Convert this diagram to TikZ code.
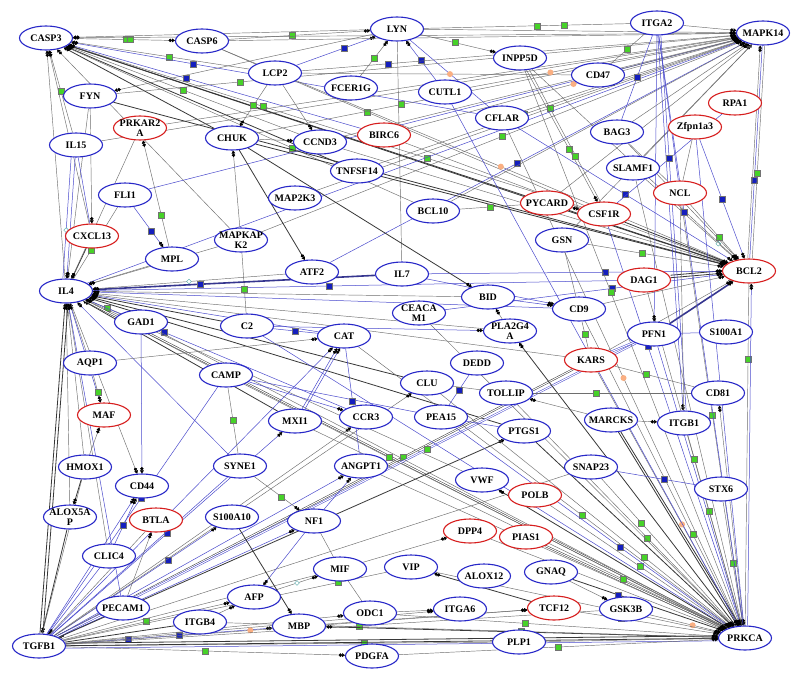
\documentclass[tikz,border=0pt]{standalone}
\usepackage{fontspec}
\setmainfont{Liberation Serif}
\usetikzlibrary{shapes.geometric,arrows.meta}
\pgfdeclarelayer{bg}
\pgfdeclarelayer{paper}
\pgfsetlayers{paper,bg,main}
\definecolor{nblue}{RGB}{40,40,200}
\definecolor{nred}{RGB}{215,30,30}
\definecolor{egray}{RGB}{110,110,110}
\definecolor{edark}{RGB}{55,55,55}
\definecolor{eblue}{RGB}{75,75,205}
\definecolor{sqgreen}{RGB}{70,210,40}
\definecolor{sqblue}{RGB}{20,30,190}
\definecolor{corange}{RGB}{250,175,130}
\newcommand{\nlab}[1]{\makebox[0pt]{#1}}
\newcommand{\nltwo}[2]{\makebox[0pt]{\shortstack{#1\\[0.5pt]#2}}}
\begin{document}
\begin{tikzpicture}[x=1pt,y=-1pt,
  nd/.style={ellipse,draw=nblue,line width=1.1pt,fill=white,minimum width=53pt,minimum height=24pt,inner sep=0pt,font=\bfseries\fontsize{10}{10}\selectfont},
  rd/.style={nd,draw=nred},
  eg/.style={draw=egray,line width=.45pt},
  ed/.style={draw=edark,line width=.8pt},
  eb/.style={draw=eblue,line width=.5pt},
  eB/.style={draw=eblue!70!black,line width=1.6pt},
  edb/.style={draw=edark,double=white,double distance=1pt,line width=.5pt},
  atip/.style={-{Circle[length=3.4pt,width=3.4pt,color=black]Triangle[length=3pt,width=3.8pt,color=black]}},
  gsq/.style={rectangle,draw=black!55,fill=sqgreen,minimum size=6pt,inner sep=0pt,line width=.35pt},
  bsq/.style={rectangle,draw=black!55,fill=sqblue,minimum size=6pt,inner sep=0pt,line width=.35pt},
  orc/.style={circle,fill=corange,minimum size=6pt,inner sep=0pt},
  dmd/.style={diamond,draw=teal!70,fill=white,minimum size=5pt,inner sep=0pt,line width=.4pt}]
\useasboundingbox (0,0) rectangle (800,678);
\begin{pgfonlayer}{paper}
\fill[white] (0,0) rectangle (800,678);
\end{pgfonlayer}
% ---------------- nodes ----------------
\node[nd] (CASP3) at (46,38) {\nlab{CASP3}};
\node[nd] (CASP6) at (202,41) {\nlab{CASP6}};
\node[nd] (LYN) at (397,29) {\nlab{LYN}};
\node[nd] (ITGA2) at (657,23) {\nlab{ITGA2}};
\node[nd] (MAPK14) at (763,33) {\nlab{MAPK14}};
\node[nd] (LCP2) at (275,73) {\nlab{LCP2}};
\node[nd] (FCER1G) at (351,88) {\nlab{FCER1G}};
\node[nd] (INPP5D) at (520,58) {\nlab{INPP5D}};
\node[nd] (CD47) at (598,75) {\nlab{CD47}};
\node[nd] (CUTL1) at (445,92) {\nlab{CUTL1}};
\node[nd] (CFLAR) at (502,118) {\nlab{CFLAR}};
\node[rd] (RPA1) at (735,103) {\nlab{RPA1}};
\node[rd] (Zfpn1a3) at (695,127) {\nlab{Zfpn1a3}};
\node[nd] (FYN) at (90,96) {\nlab{FYN}};
\node[rd] (PRKAR2A) at (140,128) {\nltwo{PRKAR2}{A}};
\node[nd] (CHUK) at (232,138) {\nlab{CHUK}};
\node[nd] (CCND3) at (320,142) {\nlab{CCND3}};
\node[rd] (BIRC6) at (384,135) {\nlab{BIRC6}};
\node[nd] (BAG3) at (617,132) {\nlab{BAG3}};
\node[nd] (SLAMF1) at (633,168) {\nlab{SLAMF1}};
\node[nd] (IL15) at (76,145) {\nlab{IL15}};
\node[nd] (TNFSF14) at (357,171) {\nlab{TNFSF14}};
\node[nd] (FLI1) at (125,195) {\nlab{FLI1}};
\node[nd] (MAP2K3) at (295,198) {\nlab{MAP2K3}};
\node[rd] (PYCARD) at (547,203) {\nlab{PYCARD}};
\node[rd] (CSF1R) at (604,214) {\nlab{CSF1R}};
\node[rd] (NCL) at (680,193) {\nlab{NCL}};
\node[nd] (BCL10) at (433,211) {\nlab{BCL10}};
\node[rd] (CXCL13) at (92,236) {\nlab{CXCL13}};
\node[nd] (MPL) at (172,259) {\nlab{MPL}};
\node[nd] (MAPKAPK2) at (241,240) {\nltwo{MAPKAP}{K2}};
\node[nd] (GSN) at (562,240) {\nlab{GSN}};
\node[nd] (ATF2) at (312,272) {\nlab{ATF2}};
\node[nd] (IL7) at (402,274) {\nlab{IL7}};
\node[rd] (DAG1) at (644,280) {\nlab{DAG1}};
\node[rd] (BCL2) at (749,271) {\nlab{BCL2}};
\node[nd] (IL4) at (66,291) {\nlab{IL4}};
\node[nd] (BID) at (488,297) {\nlab{BID}};
\node[nd] (CEACAM1) at (419,313) {\nltwo{CEACA}{M1}};
\node[nd] (CD9) at (579,309) {\nlab{CD9}};
\node[nd] (PLA2G4A) at (510,331) {\nltwo{PLA2G4}{A}};
\node[nd] (PFN1) at (654,334) {\nlab{PFN1}};
\node[nd] (S100A1) at (726,332) {\nlab{S100A1}};
\node[nd] (GAD1) at (141,322) {\nlab{GAD1}};
\node[nd] (C2) at (247,326) {\nlab{C2}};
\node[nd] (CAT) at (344,336) {\nlab{CAT}};
\node[nd] (AQP1) at (90,363) {\nlab{AQP1}};
\node[nd] (CAMP) at (226,375) {\nlab{CAMP}};
\node[nd] (DEDD) at (477,363) {\nlab{DEDD}};
\node[rd] (KARS) at (591,360) {\nlab{KARS}};
\node[nd] (CLU) at (427,383) {\nlab{CLU}};
\node[nd] (TOLLIP) at (506,393) {\nlab{TOLLIP}};
\node[nd] (CD81) at (718,393) {\nlab{CD81}};
\node[rd] (MAF) at (104,415) {\nlab{MAF}};
\node[nd] (MXI1) at (295,421) {\nlab{MXI1}};
\node[nd] (CCR3) at (366,417) {\nlab{CCR3}};
\node[nd] (PEA15) at (441,417) {\nlab{PEA15}};
\node[nd] (MARCKS) at (611,420) {\nlab{MARCKS}};
\node[nd] (ITGB1) at (684,423) {\nlab{ITGB1}};
\node[nd] (PTGS1) at (524,431) {\nlab{PTGS1}};
\node[nd] (HMOX1) at (85,467) {\nlab{HMOX1}};
\node[nd] (CD44) at (142,486) {\nlab{CD44}};
\node[nd] (SYNE1) at (240,466) {\nlab{SYNE1}};
\node[nd] (ANGPT1) at (361,466) {\nlab{ANGPT1}};
\node[nd] (SNAP23) at (591,467) {\nlab{SNAP23}};
\node[nd] (VWF) at (482,480) {\nlab{VWF}};
\node[rd] (POLB) at (535,495) {\nlab{POLB}};
\node[nd] (STX6) at (721,489) {\nlab{STX6}};
\node[nd] (ALOX5AP) at (70,517) {\nltwo{ALOX5A}{P}};
\node[rd] (BTLA) at (156,520) {\nlab{BTLA}};
\node[nd] (S100A10) at (232,517) {\nlab{S100A10}};
\node[nd] (NF1) at (314,521) {\nlab{NF1}};
\node[rd] (DPP4) at (470,531) {\nlab{DPP4}};
\node[rd] (PIAS1) at (526,537) {\nlab{PIAS1}};
\node[nd] (CLIC4) at (109,556) {\nlab{CLIC4}};
\node[nd] (MIF) at (340,569) {\nlab{MIF}};
\node[nd] (VIP) at (411,567) {\nlab{VIP}};
\node[nd] (ALOX12) at (484,576) {\nlab{ALOX12}};
\node[nd] (GNAQ) at (551,572) {\nlab{GNAQ}};
\node[nd] (PECAM1) at (123,608) {\nlab{PECAM1}};
\node[nd] (AFP) at (254,597) {\nlab{AFP}};
\node[rd] (TCF12) at (554,608) {\nlab{TCF12}};
\node[nd] (ITGA6) at (460,609) {\nlab{ITGA6}};
\node[nd] (GSK3B) at (626,609) {\nlab{GSK3B}};
\node[nd] (ITGB4) at (200,622) {\nlab{ITGB4}};
\node[nd] (MBP) at (299,626) {\nlab{MBP}};
\node[nd] (ODC1) at (370,613) {\nlab{ODC1}};
\node[nd] (PRKCA) at (745,638) {\nlab{PRKCA}};
\node[nd] (TGFB1) at (39,646) {\nlab{TGFB1}};
\node[nd] (PLP1) at (519,642) {\nlab{PLP1}};
\node[nd] (PDGFA) at (372,656) {\nlab{PDGFA}};
% ---------------- edges ----------------
\begin{pgfonlayer}{bg}
% top area
\draw[eg,atip] (CASP3) -- node[gsq,pos=.52]{} node[gsq,pos=.56]{} (CASP6);
\draw[eg,atip] (CASP6) -- node[gsq,pos=.45]{} (LYN);
\draw[eg,atip] (LYN) -- (CASP3);
\draw[eg] (LYN) -- node[gsq,pos=.55]{} node[gsq,pos=.68]{} (ITGA2);
\draw[eg,atip] (ITGA2) -- (MAPK14);
\draw[eg,atip] (LYN) -- (MAPK14);
\draw[eg,atip] (LYN) -- node[gsq,pos=.45]{} (INPP5D);
\draw[eb,atip] (LCP2) -- node[bsq,pos=.6]{} (LYN);
\draw[eg,atip] (FCER1G) -- node[gsq,pos=.5]{} (LYN);
\draw[eb,atip] (CUTL1) -- node[bsq,pos=.5]{} (LYN);
\draw[eb] (LYN) -- (CFLAR);
\draw[eg] (LYN) -- (IL7);
\draw[eg,atip] (LYN) -- (FYN);
\draw[eg] (CD47) -- node[gsq,pos=.5]{} (ITGA2);
\draw[eg] (LCP2) -- node[orc,pos=.55]{} (CD47);
% CASP3 hub
\draw[eg,atip] (LCP2) -- node[gsq,pos=.45]{} (CASP3);
\draw[ed,atip] (CHUK) -- (CASP3);
\draw[eg,atip] (CCND3) -- node[gsq,pos=.5]{} (CASP3);
\draw[eb,atip] (BIRC6) -- node[bsq,pos=.6]{} (CASP3);
\draw[ed,atip] (PYCARD) -- (CASP3);
\draw[eg,atip] (CSF1R) -- node[gsq,pos=.3]{} node[gsq,pos=.62]{} (CASP3);
\draw[ed,atip] (BCL2) -- (CASP3);
\draw[eg,atip] (MAPK14) -- (CASP3);
\draw[eg,atip] (IL15) -- node[gsq,pos=.5]{} (CASP3);
\draw[eg,atip] (IL4) -- (CASP3);
\draw[eg,atip] (CXCL13) -- (CASP3);
\draw[ed,atip] (TNFSF14) -- (CASP3);
\draw[eg,atip] (MAPKAPK2) -- node[gsq,pos=.6]{} (CASP3);
\draw[eg,atip] (BCL10) -- node[gsq,pos=.35]{} (CASP3);
\draw[eb,atip] (CFLAR) -- node[bsq,pos=.7]{} (CASP3);
\draw[eg] (CASP6) -- node[gsq,pos=.4]{} (CSF1R);
\draw[eg] (CASP6) -- node[orc,pos=.55]{} (BCL2);
% MAPK14 hub
\draw[eg,atip] (LCP2) -- node[bsq,pos=.2]{} (MAPK14);
\draw[eg,atip] (CHUK) -- node[gsq,pos=.3]{} (MAPK14);
\draw[eg,atip] (FYN) -- node[gsq,pos=.2]{} (MAPK14);
\draw[eg,atip] (IL15) -- (MAPK14);
\draw[eb,atip] (FLI1) -- (MAPK14);
\draw[eg,atip] (CCND3) -- (MAPK14);
\draw[eg,atip] (CFLAR) -- node[gsq,pos=.4]{} (MAPK14);
\draw[eg,atip] (BAG3) -- (MAPK14);
\draw[eg,atip] (MAPKAPK2) -- node[gsq,pos=.5]{} (MAPK14);
\draw[eb,atip] (ATF2) -- node[bsq,pos=.45]{} (MAPK14);
\draw[eg,atip] (MAP2K3) -- node[gsq,pos=.55]{} (MAPK14);
\draw[eg,atip] (PYCARD) -- (MAPK14);
\draw[eb,atip] (IL4) -- (MAPK14);
\draw[eg,atip] (CUTL1) -- node[orc,pos=.3]{} (MAPK14);
\draw[eg,atip] (BIRC6) -- node[orc,pos=.5]{} (MAPK14);
\draw[eg,atip] (PRKAR2A) -- (MAPK14);
\draw[eg,atip] (TNFSF14) -- node[gsq,pos=.4]{} (MAPK14);
\draw[eg,atip] (BCL10) -- (MAPK14);
\draw[eg,atip] (CD47) -- (MAPK14);
\draw[eg,atip] (CASP6) -- (MAPK14);
\draw[eg,atip] (GSN) -- (MAPK14);
\draw[eg] (SLAMF1) -- (MAPK14);
\draw[eb] (MAPK14) -- node[bsq,pos=.63]{} (BCL2);
\draw[eg,transform canvas={xshift=2.5pt}] (MAPK14) -- node[gsq,pos=.6]{} (BCL2);
\draw[eg,atip,transform canvas={xshift=-2pt}] (BCL2) -- (MAPK14);
% BCL2 hub
\draw[ed,atip] (FYN) -- (BCL2);
\draw[ed,atip] (CHUK) -- (BCL2);
\draw[eg,atip] (CCND3) -- (BCL2);
\draw[eg,atip] (BIRC6) -- node[gsq,pos=.5]{} (BCL2);
\draw[eb,atip] (CFLAR) -- node[bsq,pos=.5]{} (BCL2);
\draw[ed,atip] (PYCARD) -- (BCL2);
\draw[ed,atip] (CSF1R) -- (BCL2);
\draw[ed,atip] (DAG1) -- (BCL2);
\draw[ed,atip,transform canvas={yshift=2.5pt}] (DAG1) -- (BCL2);
\draw[eg,atip] (CD9) -- (BCL2);
\draw[eb,atip] (IL7) -- node[bsq,pos=.6]{} (BCL2);
\draw[eg,atip] (GSN) -- node[gsq,pos=.4]{} (BCL2);
\draw[eg,atip] (NCL) -- node[gsq,pos=.6]{} (BCL2);
\draw[eb,atip] (Zfpn1a3) -- node[bsq,pos=.5]{} (BCL2);
\draw[eg,atip] (BAG3) -- (BCL2);
\draw[eg,atip] (SLAMF1) -- node[dmd,pos=.8]{} (BCL2);
\draw[eB,atip] (PFN1) -- (BCL2);
\draw[eg,atip] (KARS) -- (BCL2);
\draw[eb,atip] (CEACAM1) -- node[bsq,pos=.6]{} (BCL2);
\draw[eg,atip] (INPP5D) -- (BCL2);
\draw[eg] (BCL2) -- node[gsq,pos=.22]{} (PRKCA);
\draw[eb,atip,transform canvas={xshift=2.5pt}] (PRKCA) -- (BCL2);
% IL4 hub
\draw[ed,atip] (CXCL13) -- (IL4);
\draw[eb,atip] (IL15) -- (IL4);
\draw[eb,transform canvas={xshift=-4pt}] (IL15) -- node[dmd,pos=.6]{} (IL4);
\draw[eg,atip] (FYN) -- (IL4);
\draw[eg,atip] (MPL) -- (IL4);
\draw[eg] (FLI1) -- node[gsq,pos=.6]{} (IL4);
\draw[eg,atip] (PRKAR2A) -- (IL4);
\draw[eg,atip] (MAPKAPK2) -- node[dmd,pos=.4]{} (IL4);
\draw[eB,atip] (IL7) -- node[bsq,pos=.62]{} (IL4);
\draw[eg,atip] (ATF2) -- node[dmd,pos=.5]{} (IL4);
\draw[eg,atip] (GAD1) -- node[gsq,pos=.4]{} (IL4);
\draw[ed,atip] (C2) -- (IL4);
\draw[eb,atip] (CAT) -- (IL4);
\draw[eg,atip] (CAMP) -- node[gsq,pos=.6]{} (IL4);
\draw[ed,atip] (MXI1) -- (IL4);
\draw[eb,atip] (CCR3) -- node[bsq,pos=.7]{} (IL4);
\draw[ed,atip] (CLU) -- (IL4);
\draw[ed,atip] (PTGS1) -- (IL4);
\draw[eb,atip] (CD9) -- (IL4);
\draw[eg,atip] (PLA2G4A) -- (IL4);
\draw[eg,atip] (BID) -- (IL4);
\draw[eg,atip] (AQP1) -- (IL4);
\draw[eb,atip] (MAF) -- node[bsq,pos=.4]{} (IL4);
\draw[eg,atip] (HMOX1) -- (IL4);
\draw[eg,atip] (ALOX5AP) -- (IL4);
\draw[eg,atip] (IL4) -- (CD44);
\draw[eg,atip] (CLIC4) -- (IL4);
\draw[eb,atip] (SYNE1) -- (IL4);
\draw[ed,atip] (TGFB1) -- (IL4);
\draw[ed,transform canvas={xshift=3pt}] (TGFB1) -- (IL4);
\draw[eb,atip] (PECAM1) -- (IL4);
\draw[eg,atip] (KARS) -- (IL4);
\draw[edb] (IL4) -- (PRKCA);
\draw[eb] (IL4) -- node[bsq,pos=.45]{} (DAG1);
\draw[eg,atip] (VWF) -- (IL4);
% TGFB1 hub
\draw[eb,atip] (PECAM1) -- (TGFB1);
\draw[eg,transform canvas={yshift=2.5pt}] (PECAM1) -- (TGFB1);
\draw[eb,atip] (CLIC4) -- (TGFB1);
\draw[ed,atip] (ALOX5AP) -- (TGFB1);
\draw[eg] (HMOX1) -- (TGFB1);
\draw[eb,atip] (TGFB1) -- (CD44);
\draw[eb,atip] (TGFB1) -- node[bsq,pos=.7]{} (S100A10);
\draw[eb,atip] (TGFB1) -- (NF1);
\draw[eb,atip] (TGFB1) -- (ANGPT1);
\draw[eb,atip] (TGFB1) -- node[bsq,pos=.5]{} (MXI1);
\draw[eb,atip] (TGFB1) -- (CAT);
\draw[eg,atip] (TGFB1) -- (CCR3);
\draw[edb] (TGFB1) -- node[gsq,pos=.67]{} (KARS);
\draw[edb,draw=eblue] (TGFB1) -- node[gsq,pos=.64]{} (PFN1);
\draw[eg,atip] (TGFB1) -- node[gsq,pos=.5]{} (AFP);
\draw[ed] (TGFB1) -- (ITGB4);
\draw[eb,atip] (TGFB1) -- node[bsq,pos=.3]{} node[bsq,pos=.55]{} (MBP);
\draw[eg,atip] (TGFB1) -- node[gsq,pos=.5]{} (PDGFA);
\draw[eg] (TGFB1) -- node[gsq,pos=.7]{} (PLP1);
\draw[ed] (TGFB1) -- (PRKCA);
\draw[ed,transform canvas={yshift=2.5pt}] (TGFB1) -- node[orc,pos=.7]{} (PRKCA);
\draw[eb,transform canvas={yshift=-2.5pt}] (TGFB1) -- (PRKCA);
\draw[eg,atip] (TGFB1) -- (ODC1);
\draw[eg] (TGFB1) -- node[gsq,pos=.7]{} (MIF);
\draw[eg] (TGFB1) -- node[gsq,pos=.85]{} (VIP);
\draw[eg,atip] (TGFB1) -- (ITGA6);
\draw[eg,atip] (TGFB1) -- node[orc,pos=.4]{} (TCF12);
\draw[eg,atip] (TGFB1) -- (CLU);
\draw[ed,atip] (TGFB1) -- (PTGS1);
\draw[eg] (TGFB1) -- (SNAP23);
\draw[eb] (TGFB1) -- (SYNE1);
\draw[eb] (TGFB1) -- node[bsq,pos=.55]{} (CAMP);
\draw[eg] (TGFB1) -- (BTLA);
\draw[eg] (TGFB1) -- node[gsq,pos=.55]{} (GSK3B);
% PRKCA hub
\draw[eg,atip] (GAD1) -- (PRKCA);
\draw[eb,atip] (C2) -- (PRKCA);
\draw[eg,atip] (CAMP) -- node[gsq,pos=.3]{} (PRKCA);
\draw[eg,atip] (CAT) -- node[gsq,pos=.6]{} (PRKCA);
\draw[eg,atip] (CLU) -- node[gsq,pos=.7]{} (PRKCA);
\draw[ed,atip] (PTGS1) -- (PRKCA);
\draw[ed,atip] (PRKCA) -- (PLA2G4A);
\draw[eg,atip] (TOLLIP) -- node[gsq,pos=.6]{} (PRKCA);
\draw[eg,atip] (CD9) -- node[gsq,pos=.7]{} (PRKCA);
\draw[eg,atip] (KARS) -- node[orc,pos=.6]{} (PRKCA);
\draw[eb,atip] (PFN1) -- (PRKCA);
\draw[eg,atip] (ITGB1) -- node[gsq,pos=.4]{} (PRKCA);
\draw[ed,atip] (MARCKS) -- (PRKCA);
\draw[ed,transform canvas={xshift=2.5pt}] (MARCKS) -- (PRKCA);
\draw[eg,atip] (SNAP23) -- node[gsq,pos=.3]{} (PRKCA);
\draw[eg,atip] (STX6) -- node[gsq,pos=.5]{} (PRKCA);
\draw[eg,atip] (PRKCA) -- (CD81);
\draw[eg,atip] (POLB) -- node[gsq,pos=.5]{} (PRKCA);
\draw[edb] (PIAS1) -- (PRKCA);
\draw[ed,atip] (PRKCA) -- (VWF);
\draw[eg,atip] (GSK3B) -- node[orc,pos=.6]{} (PRKCA);
\draw[eg,atip] (TCF12) -- node[gsq,pos=.3]{} (PRKCA);
\draw[eg,atip] (PLP1) -- (PRKCA);
\draw[eg,atip] (PDGFA) -- node[gsq,pos=.5]{} (PRKCA);
\draw[ed,atip] (PRKCA) -- (MBP);
\draw[eg,atip] (ODC1) -- node[gsq,pos=.4]{} (PRKCA);
\draw[eg,atip] (ITGB4) -- node[gsq,pos=.6]{} (PRKCA);
\draw[eb,atip] (CSF1R) -- node[bsq,pos=.3]{} (PRKCA);
\draw[eg,atip] (NCL) -- node[gsq,pos=.5]{} (PRKCA);
\draw[eg,atip] (DAG1) -- node[gsq,pos=.5]{} (PRKCA);
\draw[eb,atip] (CUTL1) -- (PRKCA);
\draw[eb,atip] (Zfpn1a3) -- node[bsq,pos=.4]{} (PRKCA);
\draw[eg,atip] (INPP5D) -- node[gsq,pos=.4]{} (PRKCA);
\draw[eg,atip] (CFLAR) -- node[orc,pos=.5]{} (PRKCA);
\draw[eg,atip] (MXI1) -- node[gsq,pos=.75]{} (PRKCA);
\draw[eg,atip] (ANGPT1) -- (PRKCA);
\draw[eg,atip] (VIP) -- (PRKCA);
\draw[eb,atip] (PEA15) -- node[bsq,pos=.6]{} (PRKCA);
\draw[ed,atip] (GNAQ) -- node[bsq,pos=.3]{} (PRKCA);
\draw[eb] (ITGA2) -- node[bsq,pos=.3]{} (PRKCA);
\draw[eg,atip] (DPP4) -- (PRKCA);
\draw[eg,atip] (CEACAM1) -- (PRKCA);
\draw[eg] (SLAMF1) -- node[orc,pos=.7]{} (PRKCA);
% other links
\draw[eg,atip] (LCP2) -- node[gsq,pos=.5]{} (CHUK);
\draw[eg,atip] (CHUK) -- (CCND3);
\draw[eg,atip] (LCP2) -- (CCND3);
\draw[eg,atip] (MAPKAPK2) -- (CHUK);
\draw[ed,atip] (CHUK) -- (BID);
\draw[ed,atip] (CHUK) -- (ATF2);
\draw[eg,atip] (INPP5D) -- node[gsq,pos=.6]{} (CSF1R);
\draw[eg,transform canvas={xshift=3pt}] (INPP5D) -- node[gsq,pos=.65]{} (CSF1R);
\draw[eb,atip] (ITGA2) -- (ITGB1);
\draw[eb,transform canvas={xshift=3pt}] (ITGA2) -- (ITGB1);
\draw[eb] (ITGA2) -- (NCL);
\draw[eb] (ITGA2) -- node[bsq,pos=.5]{} (BAG3);
\draw[eb,atip] (ITGA2) -- (PFN1);
\draw[eb] (RPA1) -- node[bsq,pos=.5]{} (CSF1R);
\draw[eg] (Zfpn1a3) -- (NCL);
\draw[eg] (BAG3) -- (NCL);
\draw[eg] (NCL) -- (ITGB1);
\draw[eg,atip] (PYCARD) -- (CSF1R);
\draw[eg] (BCL10) -- node[gsq,pos=.5]{} (PYCARD);
\draw[eg] (GSN) -- (CD9);
\draw[eb,atip] (IL7) -- (CD9);
\draw[eb,atip] (BID) -- (CD9);
\draw[eg,atip] (PLA2G4A) -- (BID);
\draw[eb,atip] (C2) -- (PLA2G4A);
\draw[eg] (CD9) -- node[gsq,pos=.5]{} (KARS);
\draw[eb] (PFN1) -- (S100A1);
\draw[edb,draw=eblue] (PFN1) -- (KARS);
\draw[eg,atip] (MARCKS) -- (ITGB1);
\draw[eg] (CD81) -- node[gsq,pos=.6]{} (KARS);
\draw[eg] (CD81) -- node[gsq,pos=.6]{} (TOLLIP);
\draw[eb] (DEDD) -- node[bsq,pos=.5]{} (PEA15);
\draw[eg] (CLU) -- (TOLLIP);
\draw[eb] (PEA15) -- (PTGS1);
\draw[eb] (CAMP) -- (PEA15);
\draw[eg,atip] (MARCKS) -- (TOLLIP);
\draw[eb] (SNAP23) -- node[bsq,pos=.6]{} (STX6);
\draw[eg,atip] (GNAQ) -- (GSK3B);
\draw[ed,atip] (TCF12) -- (VIP);
\draw[eg,atip] (ODC1) -- (ITGA6);
\draw[eg,atip] (MBP) -- (TCF12);
\draw[eg,atip] (MIF) -- (DPP4);
\draw[eg,atip] (AFP) -- node[dmd,pos=.5]{} (MIF);
\draw[eb,atip] (NF1) -- (AFP);
\draw[eg,atip] (SYNE1) -- node[gsq,pos=.6]{} (NF1);
\draw[eb,atip] (NF1) -- (ANGPT1);
\draw[ed,atip] (S100A10) -- (MBP);
\draw[eg,atip] (ITGB4) -- (AFP);
\draw[eg,atip] (PECAM1) -- (BTLA);
\draw[eb,atip] (CLIC4) -- node[bsq,pos=.4]{} (CD44);
\draw[ed,atip] (HMOX1) -- (ALOX5AP);
\draw[eg,atip] (AQP1) -- node[gsq,pos=.6]{} (MAF);
\draw[eg,atip] (HMOX1) -- (MAF);
\draw[eb,atip] (GAD1) -- (CD44);
\draw[eb] (C2) -- node[bsq,pos=.5]{} (CAT);
\draw[eb,atip] (MXI1) -- (CAT);
\draw[eb,atip,transform canvas={xshift=3pt}] (MXI1) -- (CAT);
\draw[eb,atip] (CAMP) -- (CCR3);
\draw[eg] (CAMP) -- node[gsq,pos=.5]{} (SYNE1);
\draw[eb] (ANGPT1) -- node[bsq,pos=.5]{} (CAT);
\draw[eb,atip] (FLI1) -- node[bsq,pos=.6]{} (MPL);
\draw[eg,atip] (MPL) -- node[gsq,pos=.3]{} (PRKAR2A);
\draw[eb] (IL15) -- (CXCL13);
\draw[eg,atip] (FYN) -- (CXCL13);
\draw[eg] (MAPKAPK2) -- node[gsq,pos=.6]{} (C2);
\draw[eg] (MIF) -- (ODC1);
\draw[eg] (MIF) -- (NF1);
\draw[eg,atip] (AQP1) -- (CAT);
\end{pgfonlayer}
\end{tikzpicture}
\end{document}
